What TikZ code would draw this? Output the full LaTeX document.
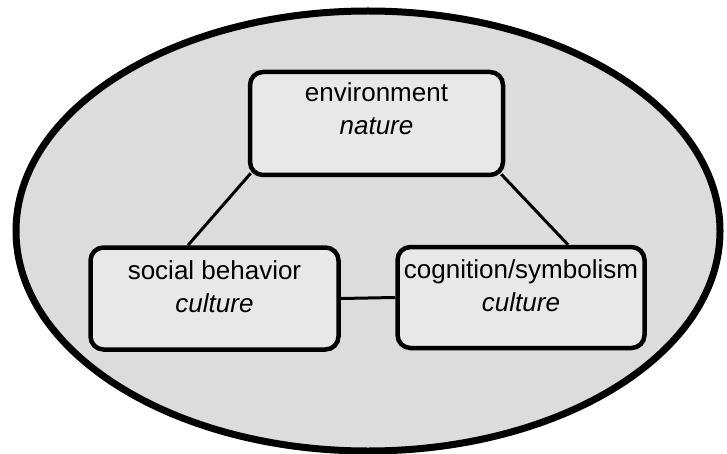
\documentclass[tikz,border=0pt]{standalone}
\usepackage{fontspec}
\setmainfont{Liberation Sans}
\usetikzlibrary{shapes.geometric}
\begin{document}
\begin{tikzpicture}[x=1pt,y=-1pt,
  boxst/.style={draw=black, line width=4.5pt, rounded corners=13pt, fill=boxgray, inner sep=0pt},
  txt/.style={anchor=north, align=center, inner sep=0pt, font=\fontsize{26}{33}\selectfont},
  link/.style={draw=black, line width=3pt}]
\definecolor{boxgray}{HTML}{E8E8E8}
\definecolor{ovalgray}{HTML}{DCDCDC}
\useasboundingbox (0,0) rectangle (727,454);
\fill[white] (0,0) rectangle (727,454);
\node[draw=black, line width=7pt, fill=ovalgray, ellipse, minimum width=704pt, minimum height=440pt, inner sep=0pt] (oval) at (368,231) {};
\node[boxst, minimum width=253pt, minimum height=103pt] (env) at (376.5,123.5) {};
\node[boxst, minimum width=248pt, minimum height=102pt] (soc) at (214.5,298.5) {};
\node[boxst, minimum width=247pt, minimum height=101pt] (cog) at (521,297.5) {};
\node[txt] (envt) at ([yshift=-13pt]env.north) {environment\\\itshape nature};
\node[txt] (soct) at ([yshift=-15pt]soc.north) {social behavior\\\itshape culture};
\node[txt] (cogt) at ([yshift=-15pt]cog.north) {cognition/symbolism\\\itshape culture};
\draw[link] ([shift={(3pt,4pt)}]env.south west) -- ([xshift=-26.5pt]soc.north);
\draw[link] ([shift={(-4pt,3pt)}]env.south east) -- ([xshift=47pt]cog.north);
\draw[link] (soc.east) -- (cog.west);
\end{tikzpicture}
\end{document}
